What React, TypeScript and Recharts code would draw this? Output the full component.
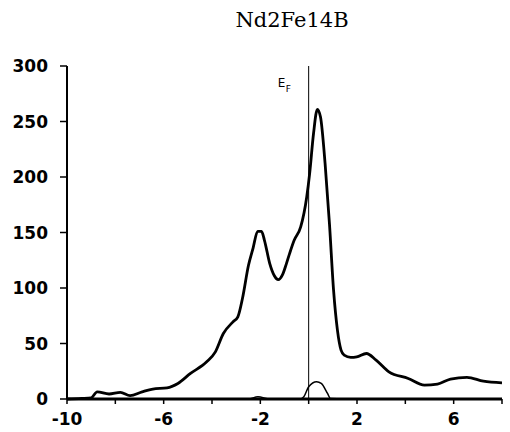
import { LineChart, Line, XAxis, YAxis, ReferenceLine } from "recharts";

// total density of states
const energy = [
  -10, -9.4, -9.0, -8.75, -8.26, -7.79, -7.39, -6.89, -6.45, -5.86, -5.41, -4.89, -4.22, -3.86,
  -3.53, -3.13, -2.93, -2.74, -2.49, -2.3, -2.11, -1.95, -1.83, -1.61, -1.42, -1.26, -1.08, -0.92,
  -0.79, -0.6, -0.33, -0.08, 0.04, 0.2, 0.36, 0.49, 0.68, 0.86, 1.03, 1.19, 1.34, 1.47, 1.74, 1.99,
  2.39, 2.79, 3.32, 4.12, 4.79, 5.33, 5.87, 6.55, 7.23, 8,
];
const totalDos = [
  0, 0.5, 1, 6.5, 4.5, 6, 3, 6.5, 9, 10, 14, 23, 33.5, 42.5,
  59, 69.5, 74, 90.5, 120.5, 136, 151, 151, 143, 122, 111, 107.5, 112, 122,
  131, 143, 155, 182, 203, 239, 261, 254, 212, 158, 98, 62, 44, 39.5, 37.5, 38,
  41, 35, 24.5, 18.5, 12.5, 13.5, 18, 19.5, 16, 14.5,
];

// partial contribution near the Fermi level
const ndEnergy = [-10, -6, -2.5, -2.1, -1.6, -0.35, -0.2, 0, 0.33, 0.52, 0.78, 0.9, 2, 8];
const ndDos = [0, 0, 0, 2, 0, 0, 2, 11, 15.5, 14, 5, 0.5, 0, 0];

const xTicks = [-10, -8, -6, -4, -2, 0, 2, 4, 6, 8];
const xLabels = [-10, -6, -2, 2, 6];
const yTicks = [0, 50, 100, 150, 200, 250, 300];
const fermiLevel = 0;
const title = "Nd2Fe14B";

const totalData = energy.map((e, i) => ({ e, dos: totalDos[i] }));
const ndData = ndEnergy.map((e, i) => ({ e, dos: ndDos[i] }));

const tickFont = { fontSize: 17, fontFamily: "DejaVu Sans", fontWeight: "bold", fill: "#000" };

const FermiLabel = ({ viewBox }: any) => (
  <g fontFamily="DejaVu Sans" fill="#000">
    <text x={viewBox.x - 31} y={viewBox.y + 21} fontSize={12}>
      E
    </text>
    <text x={viewBox.x - 23} y={viewBox.y + 26} fontSize={9}>
      F
    </text>
  </g>
);

export default function App() {
  return (
    <div style={{ position: "absolute", left: 0, top: 0, width: 510, height: 432, background: "#fff" }}>
      <svg width={510} height={40} style={{ position: "absolute", left: 0, top: 0 }}>
        <text x={292} y={27} textAnchor="middle" fontSize={21} fontFamily="DejaVu Serif" fill="#000">
          {title}
        </text>
      </svg>
      <LineChart width={510} height={432} margin={{ top: 66, right: 8, bottom: 0, left: 17 }}>
        <XAxis
          dataKey="e"
          type="number"
          domain={[-10, 8]}
          ticks={xTicks}
          interval={0}
          height={33}
          axisLine={{ stroke: "#000", strokeWidth: 3 }}
          tickLine={{ stroke: "#000", strokeWidth: 1.5 }}
          tickSize={5}
          tickMargin={9}
          tick={tickFont}
          tickFormatter={(v) => (xLabels.includes(v) ? String(v) : "")}
        />
        <XAxis
          xAxisId="top"
          orientation="top"
          dataKey="e"
          type="number"
          domain={[-10, 8]}
          ticks={xTicks}
          interval={0}
          height={0}
          axisLine={{ stroke: "#000", strokeWidth: 2 }}
          tickLine={{ stroke: "#000", strokeWidth: 1 }}
          tickSize={3}
          tickFormatter={() => ""}
        />
        <YAxis
          type="number"
          domain={[0, 300]}
          ticks={yTicks}
          interval={0}
          width={50}
          axisLine={{ stroke: "#000", strokeWidth: 2 }}
          tickLine={{ stroke: "#000", strokeWidth: 1.5 }}
          tickSize={7}
          tickMargin={12}
          tick={tickFont}
        />
        <YAxis
          yAxisId="right"
          orientation="right"
          type="number"
          domain={[0, 300]}
          ticks={yTicks}
          interval={0}
          width={0}
          axisLine={{ stroke: "#000", strokeWidth: 1.5 }}
          tickLine={{ stroke: "#000", strokeWidth: 1 }}
          tickSize={4}
          tickFormatter={() => ""}
        />
        <ReferenceLine x={fermiLevel} stroke="#000" strokeWidth={1} label={FermiLabel} />
        <Line
          data={ndData}
          dataKey="dos"
          type="monotone"
          stroke="#000"
          strokeWidth={1.5}
          dot={false}
          isAnimationActive={false}
        />
        <Line
          data={totalData}
          dataKey="dos"
          type="monotone"
          stroke="#000"
          strokeWidth={2.8}
          dot={false}
          isAnimationActive={false}
        />
      </LineChart>
    </div>
  );
}
